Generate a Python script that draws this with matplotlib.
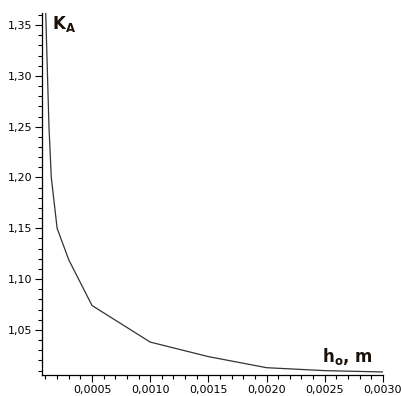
import matplotlib.pyplot as plt
from matplotlib.ticker import MultipleLocator, FuncFormatter

# thickness h0 (m) and coefficient K_A
h0 = [0.0001, 0.00013, 0.00015, 0.0002, 0.0003, 0.0005, 0.0010, 0.0015, 0.0020, 0.0025, 0.0030]
ka = [1.370, 1.250, 1.200, 1.150, 1.119, 1.074, 1.038, 1.0237, 1.0128, 1.0099, 1.0086]

fig = plt.figure(figsize=(4.01, 3.96), dpi=100)
ax = fig.add_axes([0.1047, 0.053, 0.8503, 0.914])
ax.plot(h0, ka, color='#333333', lw=0.9, clip_on=True)

ax.set_xlim(0.00007, 0.0030)
ax.set_ylim(1.0056, 1.3618)
ax.spines['top'].set_visible(False)
ax.spines['right'].set_visible(False)
for s in ['left', 'bottom']:
    ax.spines[s].set_linewidth(0.9)
    ax.spines[s].set_color('black')

ax.xaxis.set_major_locator(MultipleLocator(0.0005))
ax.xaxis.set_minor_locator(MultipleLocator(0.0001))
ax.yaxis.set_major_locator(MultipleLocator(0.05))
ax.yaxis.set_minor_locator(MultipleLocator(0.01))
ax.xaxis.set_major_formatter(FuncFormatter(lambda v, p: ('%.4f' % v).replace('.', ',')))
ax.yaxis.set_major_formatter(FuncFormatter(lambda v, p: ('%.2f' % v).replace('.', ',')))
ax.tick_params(which='major', length=5, width=0.8, labelsize=8, pad=2, colors='black')
ax.tick_params(which='minor', length=3, width=0.8)

ax.text(0.03, 0.997, r'$\mathbf{K}_{\mathbf{A}}$', transform=ax.transAxes,
        fontsize=12, color='#1a1008', ha='left', va='top')
ax.text(0.822, 0.022, r'$\mathbf{h}_{\mathbf{o}}$, m', transform=ax.transAxes,
        fontsize=12, fontweight='bold', color='#1a1008', ha='left', va='bottom')

fig.savefig('out.png', dpi=100)
